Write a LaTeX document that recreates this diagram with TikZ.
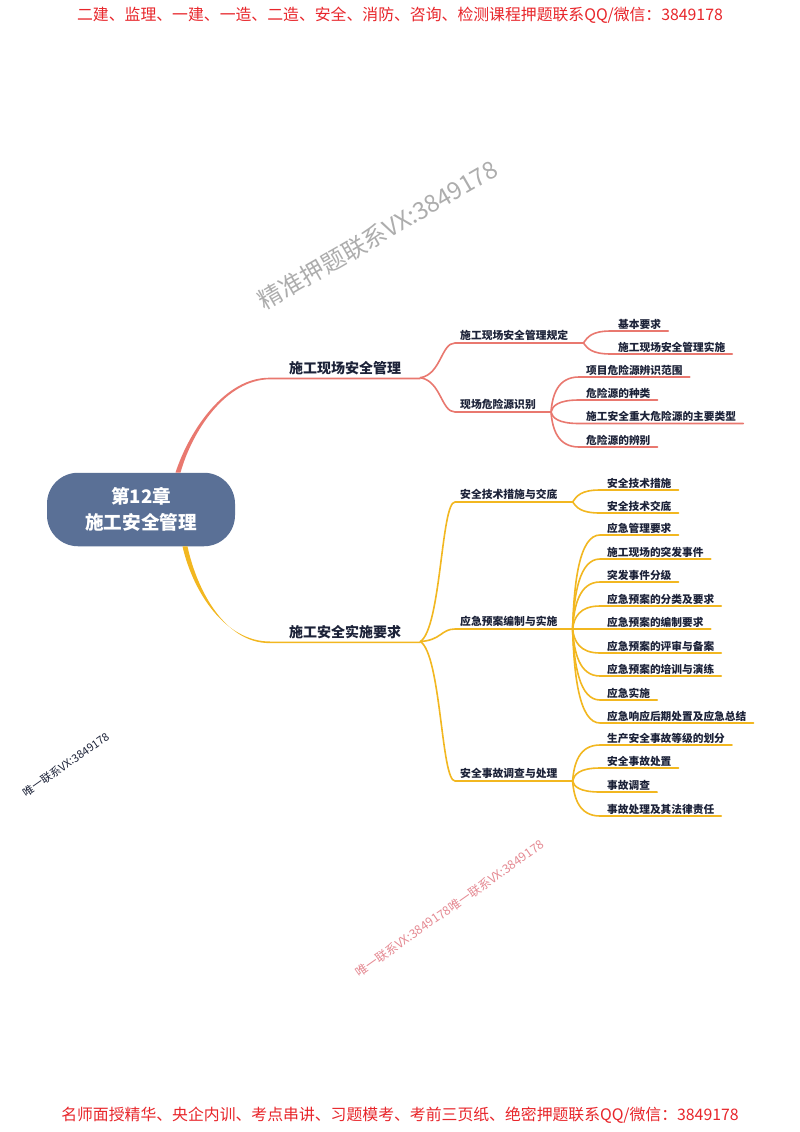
\documentclass[tikz,border=0pt]{standalone}
\usepackage{fontspec}
\setmainfont{Noto Sans CJK SC}
\usetikzlibrary{calc}
\definecolor{rline}{HTML}{E9786F}
\definecolor{yline}{HTML}{F2B720}
\definecolor{rootfill}{HTML}{5A7096}
\definecolor{ink}{HTML}{1C2238}
\definecolor{banner}{HTML}{E8262B}
\definecolor{pinkmark}{HTML}{E58A93}
\tikzset{
  rootbox/.style={fill=rootfill,rounded corners=31pt,minimum width=188pt,minimum height=73.5pt,inner sep=0pt,text=white,align=center,font=\fontsize{18.6}{26}\selectfont\bfseries},
  topicbox/.style={anchor=south west,inner xsep=19pt,inner ysep=0pt,text=ink,text height=12pt,text depth=4.2pt,font=\fontsize{14}{14}\selectfont\bfseries},
  subbox/.style={anchor=south west,inner xsep=5pt,inner ysep=0pt,text=ink,text height=9pt,text depth=3.5pt,font=\fontsize{10.8}{11}\selectfont\bfseries,execute at end node={\hspace*{10pt}}},
  leafbox/.style={anchor=south west,inner xsep=7pt,inner ysep=0pt,text=ink,text height=9pt,text depth=2.8pt,font=\fontsize{10.7}{11}\selectfont\bfseries},
  bannertext/.style={text=banner,inner sep=0pt,font=\fontsize{15.85}{16}\selectfont},
  redlink/.style={draw=rline,line width=1.6pt,line cap=round},
  yellowlink/.style={draw=yline,line width=1.6pt,line cap=round},
}
% #4,#5: control point 1 as fractions of dx,dy; #6: control point 2 as fraction of dx
\newcommand{\linkto}[6]{%
  \path[#1] let \p1=(#2.south east),\p2=(#3.south west) in
    (\p1) .. controls ({\x1+#4*\x2-#4*\x1},{\y1+#5*\y2-#5*\y1}) and ({\x1+#6*\x2-#6*\x1},\y2) .. (\p2) -- (#3.south east);}
\begin{document}
\begin{tikzpicture}[x=1pt,y=-1pt]
\useasboundingbox[fill=white] (0,0) rectangle (800,1132);
% banners and watermarks
\node[bannertext] (top) at (400,15) {二建、监理、一建、一造、二造、安全、消防、咨询、检测课程押题联系QQ/微信：3849178};
\node[bannertext] (bottom) at (400,1115) {名师面授精华、央企内训、考点串讲、习题模考、考前三页纸、绝密押题联系QQ/微信：3849178};
\node[rotate=30,text=black!32,font=\fontsize{24}{24}\selectfont] (wm1) at (378,235) {精准押题联系VX:3849178};
\node[rotate=35,text=ink,font=\fontsize{11}{11}\selectfont] (wm2) at (66,764.5) {唯一联系VX:3849178};
\node[rotate=35,text=pinkmark,font=\fontsize{12.2}{12}\selectfont] (wm3) at (449.5,908.5) {唯一联系VX:3849178唯一联系VX:3849178};
% root
\node[rootbox] (root) at (141,509.5) {第12章\\施工安全管理};
% topics
\node[topicbox] (t1) at (270,377.7) {施工现场安全管理};
\node[topicbox] (t2) at (270,641.5) {施工安全实施要求};
% subtopics
\node[subbox] (s1) at (455,343) {施工现场安全管理规定};
\node[subbox] (s2) at (455,412) {现场危险源识别};
\node[subbox] (s3) at (455,502) {安全技术措施与交底};
\node[subbox] (s4) at (455,629) {应急预案编制与实施};
\node[subbox] (s5) at (455,781) {安全事故调查与处理};
% leaves
\node[leafbox] (a1) at (611,331) {基本要求};
\node[leafbox] (a2) at (611,354) {施工现场安全管理实施};
\node[leafbox] (b1) at (579,377) {项目危险源辨识范围};
\node[leafbox] (b2) at (579,400) {危险源的种类};
\node[leafbox] (b3) at (579,423.5) {施工安全重大危险源的主要类型};
\node[leafbox] (b4) at (579,447) {危险源的辨别};
\node[leafbox] (c1) at (600,490) {安全技术措施};
\node[leafbox] (c2) at (600,513) {安全技术交底};
\node[leafbox] (d1) at (600,535) {应急管理要求};
\node[leafbox] (d2) at (600,559) {施工现场的突发事件};
\node[leafbox] (d3) at (600,582) {突发事件分级};
\node[leafbox] (d4) at (600,606) {应急预案的分类及要求};
\node[leafbox] (d5) at (600,629) {应急预案的编制要求};
\node[leafbox] (d6) at (600,653) {应急预案的评审与备案};
\node[leafbox] (d7) at (600,676) {应急预案的培训与演练};
\node[leafbox] (d8) at (600,700) {应急实施};
\node[leafbox] (d9) at (600,723) {应急响应后期处置及应急总结};
\node[leafbox] (e1) at (600,745) {生产安全事故等级的划分};
\node[leafbox] (e2) at (600,768) {安全事故处置};
\node[leafbox] (e3) at (600,792) {事故调查};
\node[leafbox] (e4) at (600,816) {事故处理及其法律责任};
% root connectors (tapered)
\fill[rline] ([xshift=34.5]root.north) .. controls (189.5,430) and (225,377.2) .. (t1.south west)
  -- (t1.south east) -- ([yshift=-1.6]t1.south east) -- ([yshift=-1.6]t1.south west)
  .. controls (225.5,379.5) and (192,431.5) .. ([xshift=39.5]root.north) -- cycle;
\fill[yline] ([xshift=41.5]root.south) .. controls (193,592) and (225,641.6) .. (t2.south west)
  -- (t2.south east) -- ([yshift=-1.6]t2.south east) -- ([yshift=-1.6]t2.south west)
  .. controls (225,643.4) and (197,590.5) .. ([xshift=46.5]root.south) -- cycle;
% links
\foreach \kid in {s1,s2} {\linkto{redlink}{t1}{\kid}{.6}{.1}{.6}}
\foreach \kid in {s3,s4,s5} {\linkto{yellowlink}{t2}{\kid}{.6}{.1}{.6}}
\foreach \kid in {a1,a2} {\linkto{redlink}{s1}{\kid}{.15}{.5}{.3}}
\foreach \kid in {b1,b2,b3,b4} {\linkto{redlink}{s2}{\kid}{.05}{.5}{.25}}
\foreach \kid in {c1,c2} {\linkto{yellowlink}{s3}{\kid}{.15}{.5}{.3}}
\foreach \kid in {d1,d2,d3,d4,d5,d6,d7,d8,d9} {\linkto{yellowlink}{s4}{\kid}{.05}{.5}{.25}}
\foreach \kid in {e1,e2,e3,e4} {\linkto{yellowlink}{s5}{\kid}{.05}{.5}{.25}}
\end{tikzpicture}
\end{document}
